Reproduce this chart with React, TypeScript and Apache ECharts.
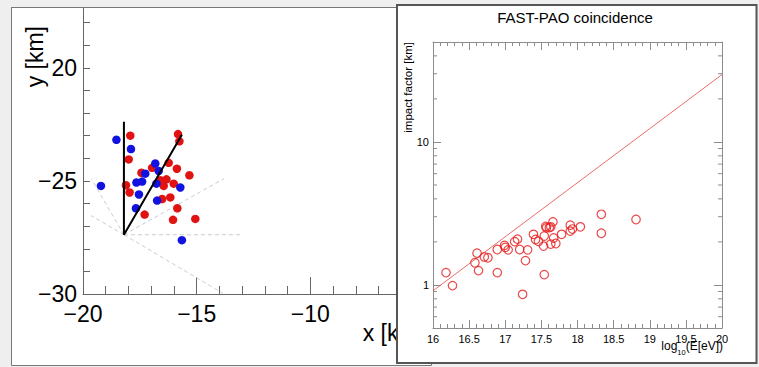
import React, { useEffect, useRef } from 'react';
import * as echarts from 'echarts';

// ---------- Left panel: shower map ----------
const redX = [-17.92, -15.82, -15.76, -17.99, -16.96, -16.23, -17.43, -15.87, -15.32, -16.6, -16.33, -16.45, -16.01, -18.11, -17.95, -16.52, -16.16, -15.85, -17.29, -16.04, -15.06];
const redY = [-23.0, -22.93, -23.25, -24.05, -24.42, -24.2, -24.64, -24.46, -24.75, -24.97, -24.93, -25.22, -25.12, -25.19, -25.51, -25.8, -25.73, -26.21, -26.49, -26.72, -26.68];
const blueX = [-18.53, -17.89, -16.82, -16.67, -17.26, -17.65, -17.4, -16.77, -15.72, -19.21, -17.54, -16.74, -17.67, -15.65];
const blueY = [-23.18, -23.59, -24.23, -24.56, -24.68, -25.07, -25.03, -25.12, -25.29, -25.22, -25.6, -25.87, -26.21, -27.62];
// track: vertical top -> apex -> diagonal top
const trackX = [-18.2, -18.2, -15.65];
const trackY = [-22.38, -27.38, -22.96];
// dashed rays from the apex
const rayApex = [-18.2, -27.38];
const rayEndX = [-13.05, -13.8, -19.62, -19.65, -13.85];
const rayEndY = [-27.38, -24.9, -24.93, -26.53, -29.97];
const leftYTickLabels: Record<string, string> = { '-30': '\u221230', '-25': '\u221225', '-20': '20' };

// ---------- Right panel: FAST-PAO coincidence ----------
const logE = [16.18, 16.27, 16.58, 16.61, 16.63, 16.71, 16.76, 16.89, 16.89, 16.99, 17.0, 17.04, 17.13, 17.17, 17.2, 17.24, 17.28, 17.31, 17.39, 17.42, 17.46, 17.53, 17.54, 17.54, 17.56, 17.57, 17.61, 17.63, 17.63, 17.66, 17.67, 17.7, 17.78, 17.9, 17.9, 17.93, 18.04, 18.33, 18.33, 18.81];
const impact = [1.22, 0.99, 1.43, 1.67, 1.26, 1.57, 1.55, 1.22, 1.77, 1.89, 1.83, 1.76, 2.01, 2.09, 1.77, 0.86, 1.48, 1.76, 2.26, 2.08, 2.02, 1.87, 2.2, 1.18, 2.57, 2.51, 2.52, 2.55, 1.93, 2.76, 2.13, 1.95, 2.26, 2.62, 2.38, 2.46, 2.55, 3.12, 2.3, 2.87];
const limitX = [16, 20];
const limitY = [0.91, 29.6];
const minorLogTicks = [0.6, 0.7, 0.8, 0.9, 2, 3, 4, 5, 6, 7, 8, 9, 20, 30, 40];
const rightYTickLabels: Record<string, string> = { '1': '1', '10': '10' };

const FONT = '"Liberation Sans", Arial, Helvetica, sans-serif';
const BG = '#efefef';
const LEFT_AX = '#666';
const FRAME = '#8c8c8c';

function buildOption(): any {
  const rightAxisCommon = {
    axisLine: { show: true, onZero: false, lineStyle: { color: FRAME, width: 1 } },
    splitLine: { show: false },
    z: 30,
  };
  return {
    animation: false,
    backgroundColor: BG,
    grid: [
      { left: 83, top: 294 - 13 * 22.8, width: 341, height: 13 * 22.8 },
      { left: 433, top: 42, width: 289, height: 286 },
    ],
    xAxis: [
      {
        gridIndex: 0, type: 'value', min: -20, max: -5, interval: 5,
        axisLine: { show: true, onZero: false, lineStyle: { color: LEFT_AX, width: 1 } },
        axisTick: { inside: true, length: 17, lineStyle: { color: LEFT_AX } },
        minorTick: { show: true, splitNumber: 5, length: 8, lineStyle: { color: LEFT_AX } },
        axisLabel: { formatter: (v: number) => String(v).replace('-', '\u2212'), fontSize: 23, fontFamily: FONT, color: '#000', margin: 8 },
        splitLine: { show: false }, minorSplitLine: { show: false }, z: 2,
      },
      {
        gridIndex: 1, type: 'value', min: 16, max: 20, interval: 0.5, position: 'bottom',
        ...rightAxisCommon,
        axisTick: { inside: true, length: 8, lineStyle: { color: FRAME } },
        minorTick: { show: true, splitNumber: 5, length: 4, lineStyle: { color: FRAME } },
        axisLabel: { fontSize: 11, fontFamily: FONT, color: '#000', margin: 5 },
      },
      {
        gridIndex: 1, type: 'value', min: 16, max: 20, interval: 0.5, position: 'top',
        ...rightAxisCommon,
        axisTick: { inside: true, length: 8, lineStyle: { color: FRAME } },
        minorTick: { show: true, splitNumber: 5, length: 4, lineStyle: { color: FRAME } },
        axisLabel: { show: false },
      },
    ],
    yAxis: [
      {
        gridIndex: 0, type: 'value', min: -30, max: -17, interval: 1,
        axisLine: { show: true, onZero: false, lineStyle: { color: LEFT_AX, width: 1 } },
        axisTick: { inside: true, length: 7, lineStyle: { color: LEFT_AX } },
        axisLabel: { formatter: (v: number) => leftYTickLabels[String(v)] ?? '', fontSize: 23, fontFamily: FONT, color: '#000', margin: 6 },
        splitLine: { show: false }, z: 2,
      },
      {
        gridIndex: 1, type: 'log', logBase: 10, min: 0.5, max: 50, position: 'left',
        ...rightAxisCommon,
        axisTick: { inside: true, length: 8, lineStyle: { color: FRAME } },
        axisLabel: { formatter: (v: number) => rightYTickLabels[String(v)] ?? '', fontSize: 11, fontFamily: FONT, color: '#000', margin: 4 },
      },
      {
        gridIndex: 1, type: 'log', logBase: 10, min: 0.5, max: 50, position: 'right',
        ...rightAxisCommon,
        axisTick: { inside: true, length: 8, lineStyle: { color: FRAME } },
        axisLabel: { show: false },
      },
    ],
    series: [
      ...rayEndX.map((x, i) => ({
        type: 'line', xAxisIndex: 0, yAxisIndex: 0, silent: true, symbol: 'none', z: 2,
        data: [rayApex, [x, rayEndY[i]]],
        lineStyle: { color: '#c9ccd6', width: 1, type: [4, 3] },
      })),
      {
        type: 'scatter', xAxisIndex: 0, yAxisIndex: 0, z: 3, symbolSize: 8.5,
        data: redX.map((x, i) => [x, redY[i]]),
        itemStyle: { color: '#e01212', opacity: 1 },
      },
      {
        type: 'scatter', xAxisIndex: 0, yAxisIndex: 0, z: 3, symbolSize: 8.5,
        data: blueX.map((x, i) => [x, blueY[i]]),
        itemStyle: { color: '#1212e0', opacity: 1 },
      },
      {
        type: 'line', xAxisIndex: 0, yAxisIndex: 0, symbol: 'none', z: 4,
        data: trackX.map((x, i) => [x, trackY[i]]),
        lineStyle: { color: '#000', width: 2 },
      },
      {
        type: 'line', xAxisIndex: 1, yAxisIndex: 1, symbol: 'none', z: 31,
        data: limitX.map((x, i) => [x, limitY[i]]),
        lineStyle: { color: '#e04848', width: 0.8 },
      },
      {
        type: 'scatter', xAxisIndex: 1, yAxisIndex: 1, z: 32, symbol: 'circle', symbolSize: 8.5,
        data: logE.map((x, i) => [x, impact[i]]),
        itemStyle: { color: 'rgba(0,0,0,0)', borderColor: '#e61a1a', borderWidth: 1.2 },
      },
      {
        type: 'custom', xAxisIndex: 1, yAxisIndex: 1, z: 31, silent: true,
        data: minorLogTicks.map((v) => [16, v]),
        renderItem: (params: any, api: any) => {
          const v = api.value(1);
          const l = api.coord([16, v]);
          const r = api.coord([20, v]);
          const st = { stroke: FRAME, lineWidth: 1 };
          return {
            type: 'group',
            children: [
              { type: 'line', shape: { x1: l[0], y1: l[1], x2: l[0] + 4, y2: l[1] }, style: st },
              { type: 'line', shape: { x1: r[0], y1: r[1], x2: r[0] - 4, y2: r[1] }, style: st },
            ],
          };
        },
      },
    ],
    graphic: {
      elements: [
        // left pad
        { type: 'rect', z: 1, silent: true, shape: { x: 11.5, y: 7.5, width: 420, height: 358 }, style: { fill: '#fff', stroke: '#777', lineWidth: 1 } },
        { type: 'text', z: 3, x: 35, y: 26, rotation: Math.PI / 2, style: { text: 'y [km]', fontSize: 23, fontFamily: FONT, fill: '#000', align: 'right', textAlign: 'right', verticalAlign: 'middle', textVerticalAlign: 'middle' } },
        { type: 'text', z: 3, x: 424, y: 333, style: { text: 'x [km]', fontSize: 23, fontFamily: FONT, fill: '#000', align: 'right', textAlign: 'right', verticalAlign: 'middle', textVerticalAlign: 'middle' } },
        // mask above the left pad
        { type: 'rect', z: 10, silent: true, shape: { x: 0, y: 0, width: 400, height: 7 }, style: { fill: BG } },
        { type: 'line', z: 10, silent: true, shape: { x1: 11, y1: 7.5, x2: 400, y2: 7.5 }, style: { stroke: '#777', lineWidth: 1 } },
        // right pad
        { type: 'rect', z: 20, silent: true, shape: { x: 397, y: 5, width: 359.5, height: 358 }, style: { fill: '#fff', stroke: '#555', lineWidth: 2 } },
        { type: 'text', z: 30, x: 575, y: 17, style: { text: 'FAST-PAO coincidence', fontSize: 15, fontFamily: FONT, fill: '#000', align: 'center', textAlign: 'center', verticalAlign: 'middle', textVerticalAlign: 'middle' } },
        { type: 'text', z: 30, x: 408, y: 42, rotation: Math.PI / 2, style: { text: 'impact factor [km]', fontSize: 11.5, fontFamily: FONT, fill: '#000', align: 'right', textAlign: 'right', verticalAlign: 'middle', textVerticalAlign: 'middle' } },
        {
          type: 'text', z: 30, x: 723, y: 346,
          style: {
            text: '{a|log}{b|10}{a|(E[eV])}',
            align: 'right', textAlign: 'right', verticalAlign: 'middle', textVerticalAlign: 'middle',
            rich: {
              a: { fontSize: 12, fontFamily: FONT, fill: '#000', lineHeight: 20 },
              b: { fontSize: 7.5, fontFamily: FONT, fill: '#000', lineHeight: 8, verticalAlign: 'bottom' },
            },
          },
        },
      ],
    },
  };
}

export default function App() {
  const ref = useRef<HTMLDivElement>(null);
  useEffect(() => {
    if (!ref.current) return;
    const chart = echarts.init(ref.current, null, { renderer: 'svg' });
    chart.setOption(buildOption());
    return () => chart.dispose();
  }, []);
  return <div ref={ref} style={{ position: 'fixed', left: 0, top: 0, width: 759, height: 367 }} />;
}
